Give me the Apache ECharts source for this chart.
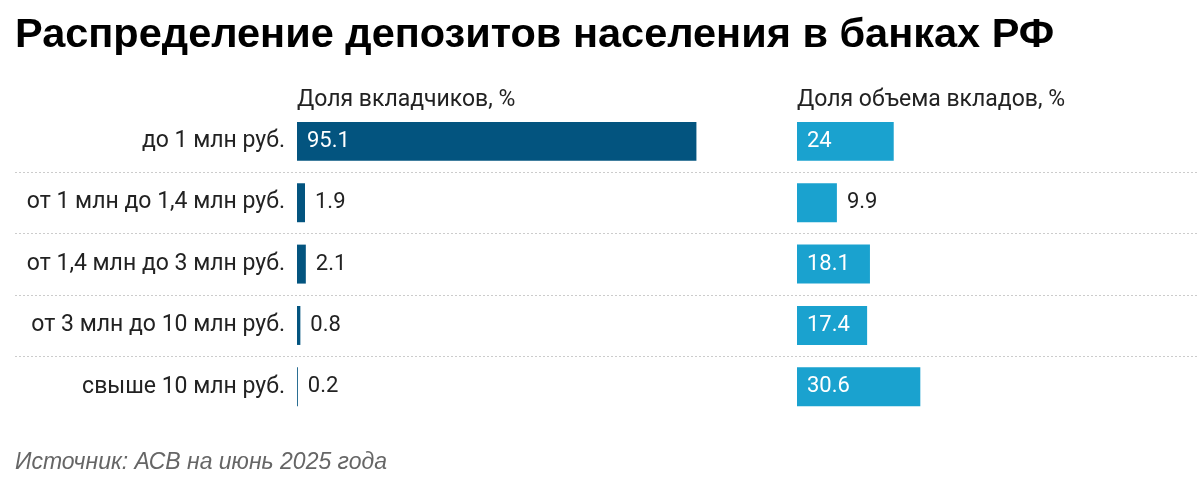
<!DOCTYPE html>
<html>
<head>
<meta charset="utf-8">
<script src="https://cdn.jsdelivr.net/npm/echarts@6/dist/echarts.min.js"></script>
<style>
  html, body { margin: 0; padding: 0; background: #fff; }
  #chart { width: 1200px; height: 477px; }
</style>
</head>
<body>
<div id="chart"></div>
<script>
// категории (сверху вниз)
var categories = ['до 1 млн руб.', 'от 1 млн до 1,4 млн руб.', 'от 1,4 млн до 3 млн руб.', 'от 3 млн до 10 млн руб.', 'свыше 10 млн руб.']
// доля вкладчиков, %
var depositors = [95.1, 1.9, 2.1, 0.8, 0.2]
// доля объема вкладов, %
var volume = [24, 9.9, 18.1, 17.4, 30.6]

var titleText = 'Распределение депозитов населения в банках РФ'
var leftHeader = 'Доля вкладчиков, %'
var rightHeader = 'Доля объема вкладов, %'
var sourceText = 'Источник: АСВ на июнь 2025 года'

var darkBlue = '#03547f'
var lightBlue = '#1aa2cf'
var gridTop = 110.7
var gridHeight = 306.8

// подпись внутри столбца, если он достаточно широкий, иначе справа
function makeData(values, threshold) {
  return values.map(function (v) {
    var inside = v >= threshold
    return {
      value: v,
      label: {
        position: inside ? 'insideLeft' : 'right',
        color: inside ? '#ffffff' : '#222222',
        distance: 10
      }
    }
  })
}

var catAxisBase = {
  type: 'category',
  data: categories,
  inverse: true,
  axisLine: { show: false },
  axisTick: { show: false },
  splitLine: { show: false }
}

var chart = echarts.init(document.getElementById('chart'))
chart.setOption({
  animation: false,
  title: [
    {
      text: titleText,
      left: 15,
      top: 15,
      padding: 0,
      textStyle: { fontFamily: 'Liberation Sans', fontWeight: 'bold', fontSize: 41.5, color: '#000' }
    },
    {
      text: leftHeader,
      left: 297,
      top: 89,
      padding: 0,
      textStyle: { fontFamily: 'Roboto', fontWeight: 'normal', fontSize: 23, color: '#222' }
    },
    {
      text: rightHeader,
      left: 797,
      top: 89,
      padding: 0,
      textStyle: { fontFamily: 'Roboto', fontWeight: 'normal', fontSize: 23, color: '#222' }
    },
    {
      text: sourceText,
      left: 15,
      top: 451,
      padding: 0,
      textStyle: { fontFamily: 'Liberation Sans', fontStyle: 'italic', fontWeight: 'normal', fontSize: 23, color: '#666' }
    }
  ],
  grid: [
    { left: 15, right: 2, top: gridTop, height: gridHeight }, // разделители
    { left: 297, width: 420, top: gridTop, height: gridHeight },
    { left: 797, width: 420, top: gridTop, height: gridHeight }
  ],
  xAxis: [
    { gridIndex: 0, type: 'value', min: 0, max: 1, show: false },
    { gridIndex: 1, type: 'value', min: 0, max: 100, show: false },
    { gridIndex: 2, type: 'value', min: 0, max: 100, show: false }
  ],
  yAxis: [
    {
      gridIndex: 0,
      type: 'value',
      min: 0,
      max: 5,
      interval: 1,
      axisLine: { show: false },
      axisTick: { show: false },
      axisLabel: { show: false },
      splitLine: {
        show: true,
        showMinLine: false,
        showMaxLine: false,
        lineStyle: { color: '#cccccc', width: 1, type: [2, 2] }
      }
    },
    Object.assign({}, catAxisBase, {
      gridIndex: 1,
      axisLabel: { margin: 12, fontFamily: 'Roboto', fontSize: 23, color: '#222' }
    }),
    Object.assign({}, catAxisBase, {
      gridIndex: 2,
      axisLabel: { show: false }
    })
  ],
  series: [
    { type: 'scatter', xAxisIndex: 0, yAxisIndex: 0, data: [], silent: true },
    {
      type: 'bar',
      xAxisIndex: 1,
      yAxisIndex: 1,
      barWidth: '63.5%',
      itemStyle: { color: darkBlue },
      label: { show: true, fontFamily: 'Roboto', fontSize: 22 },
      data: makeData(depositors, 10)
    },
    {
      type: 'bar',
      xAxisIndex: 2,
      yAxisIndex: 2,
      barWidth: '63.5%',
      itemStyle: { color: lightBlue },
      label: { show: true, fontFamily: 'Roboto', fontSize: 22 },
      data: makeData(volume, 10)
    }
  ]
})
</script>
</body>
</html>
